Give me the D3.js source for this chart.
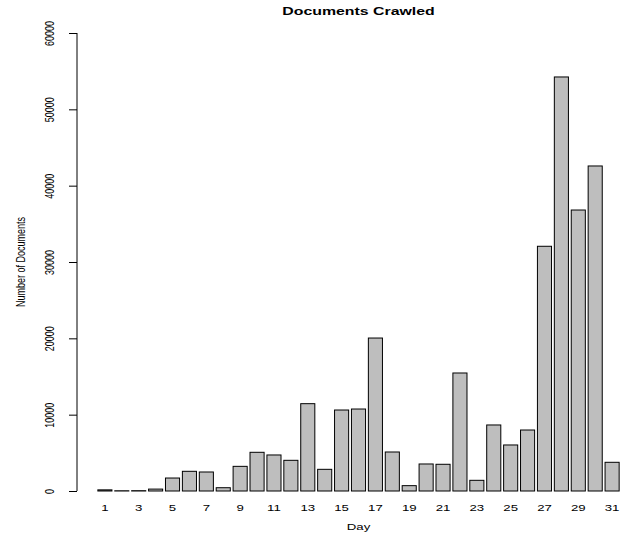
<!DOCTYPE html>
<html>
<head>
<meta charset="utf-8">
<script src="https://cdn.jsdelivr.net/npm/d3@7"></script>
<style>
  body { margin: 0; background: #fff; }
  text { font-family: "Liberation Sans", Arial, Helvetica, sans-serif; fill: #000; }
</style>
</head>
<body>
<svg id="chart" width="626" height="535"></svg>
<script>
// data
var days = [1, 2, 3, 4, 5, 6, 7, 8, 9, 10, 11, 12, 13, 14, 15, 16, 17, 18, 19, 20, 21, 22, 23, 24, 25, 26, 27, 28, 29, 30, 31];
var docs = [150, 30, 40, 250, 1700, 2580, 2490, 430, 3230, 5070, 4720, 4020, 11440, 2840, 10610, 10740,
            20040, 5110, 700, 3540, 3500, 15460, 1400, 8650, 6030, 7990, 32060, 54240, 36810, 42580, 3760];
var dayLabels = [1, 3, 5, 7, 9, 11, 13, 15, 17, 19, 21, 23, 25, 27, 29, 31];
var yTicks = [0, 10000, 20000, 30000, 40000, 50000, 60000];

var title = "Documents Crawled";
var xTitle = "Day";
var yTitle = "Number of Documents";

// text in the reference is stretched sideways
var stretch = 1.47;

var svg = d3.select("#chart");

// barplot units: bar i spans 0.2 + 1.2*(i-1) .. +1
var x = d3.scaleLinear().domain([-1.28, 38.68]).range([77, 640]);
var y = d3.scaleLinear().domain([0, 60000]).range([491, 33]);

function barLeft(i) { return 0.2 + 1.2 * i; }

// bars
svg.append("g")
    .selectAll("rect")
    .data(docs)
    .enter()
    .append("rect")
    .attr("x", function(d, i) { return x(barLeft(i)); })
    .attr("width", function(d, i) { return x(barLeft(i) + 1) - x(barLeft(i)); })
    .attr("y", function(d) { return y(d); })
    .attr("height", function(d) { return y(0) - y(d); })
    .attr("fill", "#bebebe")
    .attr("stroke", "#000")
    .attr("stroke-width", 1);

// y axis
var yAxis = d3.axisLeft(y)
    .tickValues(yTicks)
    .tickSize(8)
    .tickFormat(function(d) { return ""; });

var ga = svg.append("g")
    .attr("transform", "translate(77,0)")
    .call(yAxis);
ga.select(".domain").attr("d", "M0," + y(0) + "V" + y(60000)).attr("stroke", "#000");
ga.selectAll(".tick line").attr("stroke", "#000");

ga.selectAll(".tick")
    .append("text")
    .attr("transform", "translate(-23,0) scale(" + stretch + ",1) rotate(-90)")
    .attr("text-anchor", "middle")
    .attr("font-size", "9px")
    .text(function(d) { return d; });

// day labels
svg.append("g")
    .selectAll("text")
    .data(dayLabels)
    .enter()
    .append("text")
    .attr("transform", function(d) {
        var i = days.indexOf(d);
        return "translate(" + x(barLeft(i) + 0.5) + ",511) scale(" + stretch + ",1)";
    })
    .attr("text-anchor", "middle")
    .attr("font-size", "9px")
    .text(function(d) { return d; });

// titles
svg.append("text")
    .attr("transform", "translate(" + x(18.7) + ",15) scale(" + stretch + ",1)")
    .attr("text-anchor", "middle")
    .attr("font-size", "10.8px")
    .attr("font-weight", "bold")
    .text(title);

svg.append("text")
    .attr("transform", "translate(" + x(18.7) + ",530) scale(" + stretch + ",1)")
    .attr("text-anchor", "middle")
    .attr("font-size", "9px")
    .text(xTitle);

svg.append("text")
    .attr("transform", "translate(25," + y(30000) + ") scale(" + stretch + ",1) rotate(-90)")
    .attr("text-anchor", "middle")
    .attr("font-size", "9px")
    .text(yTitle);
</script>
</body>
</html>
